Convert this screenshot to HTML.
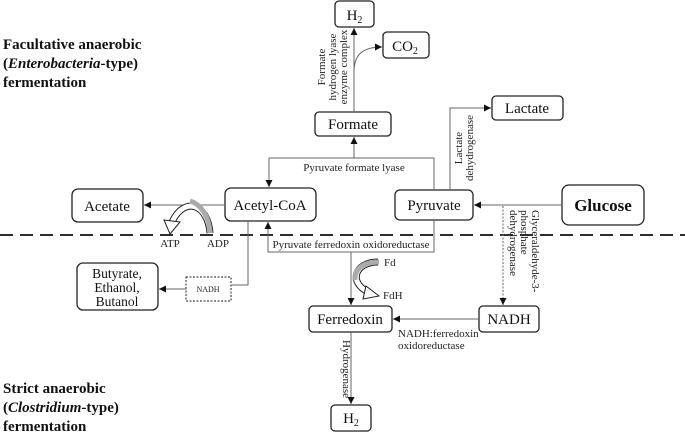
<!DOCTYPE html>
<html><head><meta charset="utf-8"><style>
html,body{margin:0;padding:0;background:#fff;}
svg{display:block;font-family:"Liberation Serif",serif;}
</style></head><body>
<svg width="685" height="436" viewBox="0 0 685 436" xmlns="http://www.w3.org/2000/svg">
<defs>
<marker id="a" markerWidth="8" markerHeight="8" refX="7" refY="4" orient="auto" markerUnits="userSpaceOnUse"><path d="M0,0.5 L7,4 L0,7.5 z" fill="#111"/></marker>
</defs>
<g fill="none" stroke="#222" stroke-width="1.3">
<rect x="335" y="1" width="39" height="26" rx="4"/>
<rect x="383" y="32" width="46" height="26" rx="4"/>
<rect x="315" y="112" width="76" height="24" rx="4"/>
<rect x="492" y="96" width="71" height="24" rx="4"/>
<rect x="72" y="189" width="71" height="33" rx="6"/>
<rect x="225" y="188" width="91" height="33" rx="6"/>
<rect x="395" y="190" width="78" height="30" rx="5"/>
<rect x="562" y="185" width="82" height="40" rx="7"/>
<rect x="77" y="263" width="81" height="47" rx="6"/>
<rect x="186" y="277" width="45" height="24" stroke-dasharray="2,1.5" stroke-width="1"/>
<rect x="309" y="306" width="83" height="26" rx="4"/>
<rect x="479" y="306" width="60" height="26" rx="4"/>
<rect x="331" y="405" width="40" height="26" rx="4"/>
</g>
<line x1="0" y1="235" x2="685" y2="235" stroke="#111" stroke-width="1.8" stroke-dasharray="13,7"/>
<g fill="none" stroke="#666" stroke-width="1">
<line x1="354" y1="112" x2="354" y2="28" marker-end="url(#a)"/>
<path d="M354,72 C354,55 362,47 382,47" marker-end="url(#a)"/>
<polyline points="269,158 434,158 434,190"/>
<line x1="354" y1="158" x2="354" y2="137" marker-end="url(#a)"/>
<line x1="269" y1="158" x2="269" y2="187" marker-end="url(#a)"/>
<polyline points="450,190 450,108 491,108" marker-end="url(#a)"/>
<line x1="562" y1="205" x2="474" y2="205" marker-end="url(#a)"/>
<line x1="503" y1="206" x2="503" y2="305" stroke-dasharray="2,1.5" marker-end="url(#a)"/>
<line x1="225" y1="205" x2="144" y2="205" marker-end="url(#a)"/>
<polyline points="248,221 248,285 231,285"/>
<line x1="186" y1="289" x2="159" y2="289" marker-end="url(#a)"/>
<polyline points="434,220 434,252 268,252 268,222" marker-end="url(#a)"/>
<line x1="351" y1="252" x2="351" y2="305" marker-end="url(#a)"/>
<line x1="479" y1="319" x2="393" y2="319" marker-end="url(#a)"/>
<line x1="351" y1="332" x2="351" y2="404" marker-end="url(#a)"/>
</g>
<path d="M210,233 C208,205 185,195 172,222" fill="none" stroke="#222" stroke-width="7"/>
<path d="M210,233 C208,205 185,195 172,222" fill="none" stroke="#fff" stroke-width="5"/>
<path d="M210,233 C209,215 200,204 190,201" fill="none" stroke="#aaa" stroke-width="5"/>
<path d="M164,220 L180,222 L170,234 Z" fill="#fff" stroke="#222" stroke-width="1"/>
<path d="M378,262 C355,262 348,282 368,292" fill="none" stroke="#222" stroke-width="7"/>
<path d="M378,262 C355,262 348,282 368,292" fill="none" stroke="#fff" stroke-width="5"/>
<path d="M379,262 C362,262 354,270 355,280" fill="none" stroke="#aaa" stroke-width="5"/>
<path d="M366,286 L379,296 L363,299 Z" fill="#fff" stroke="#222" stroke-width="1"/>
<g fill="#111" font-size="15" text-anchor="middle">
<text x="354.5" y="20">H<tspan font-size="10" dy="3">2</tspan></text>
<text x="405" y="51">CO<tspan font-size="10" dy="3">2</tspan></text>
<text x="353" y="129">Formate</text>
<text x="527" y="113">Lactate</text>
<text x="107" y="211">Acetate</text>
<text x="270" y="210">Acetyl-CoA</text>
<text x="434" y="210">Pyruvate</text>
<text x="603" y="211" font-weight="bold" font-size="17">Glucose</text>
<text x="117" y="278" font-size="13.5">Butyrate,</text>
<text x="117" y="292" font-size="13.5">Ethanol,</text>
<text x="117" y="306" font-size="13.5">Butanol</text>
<text x="350" y="324">Ferredoxin</text>
<text x="509" y="324">NADH</text>
<text x="351" y="423">H<tspan font-size="10" dy="3">2</tspan></text>
</g>
<g fill="#222" font-size="11">
<text x="208" y="292" font-size="8" text-anchor="middle">NADH</text>
<text x="354" y="171" text-anchor="middle">Pyruvate formate lyase</text>
<text x="351" y="248" text-anchor="middle">Pyruvate ferredoxin oxidoreductase</text>
<text x="170" y="247" text-anchor="middle">ATP</text>
<text x="218" y="247" text-anchor="middle">ADP</text>
<text x="384" y="266">Fd</text>
<text x="383" y="299">FdH</text>
<text x="398" y="337">NADH:ferredoxin</text>
<text x="398" y="349">oxidoreductase</text>
<g transform="translate(325,67) rotate(-90)" text-anchor="middle"><text x="0" y="0">Formate</text><text x="0" y="11">hydrogen lyase</text><text x="0" y="22">enzyme complex</text></g>
<g transform="translate(462,148) rotate(-90)" text-anchor="middle"><text x="0" y="0">Lactate</text><text x="0" y="11">dehydrogenase</text></g>
<g transform="translate(509,210) rotate(90)" text-anchor="start"><text x="0" y="-23">Glyceraldehyde-3-</text><text x="0" y="-12">phosphate</text><text x="0" y="-1">dehydrogenase</text></g>
<g transform="translate(343,340) rotate(90)" text-anchor="start"><text x="0" y="0">Hydrogenase</text></g>
</g>
<g fill="#111" font-size="15" font-weight="bold">
<text x="3" y="49">Facultative anaerobic</text>
<text x="3" y="68">(<tspan font-style="italic">Enterobacteria</tspan>-type)</text>
<text x="3" y="87">fermentation</text>
<text x="3" y="393">Strict anaerobic</text>
<text x="3" y="412">(<tspan font-style="italic">Clostridium</tspan>-type)</text>
<text x="3" y="431">fermentation</text>
</g>
</svg>
</body></html>
